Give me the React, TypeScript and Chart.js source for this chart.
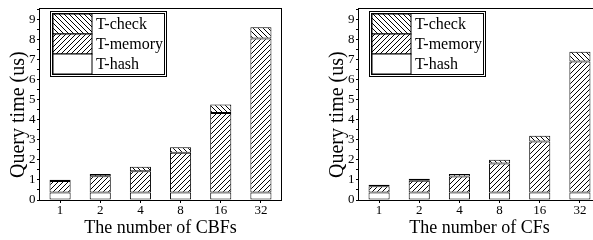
import React, { useEffect, useRef } from 'react';
import { Chart, registerables } from 'chart.js';

Chart.register(...registerables);

// ---- data ----
const categories = ['1', '2', '4', '8', '16', '32'];
const seriesNames = ['T-hash', 'T-memory', 'T-check'];

const cbfHash = [0.37, 0.37, 0.37, 0.37, 0.37, 0.37];
const cbfMemory = [0.58, 0.81, 1.06, 1.98, 3.97, 7.67];
const cbfCheck = [0.06, 0.12, 0.23, 0.28, 0.42, 0.57];

const cfHash = [0.37, 0.37, 0.37, 0.37, 0.37, 0.37];
const cfMemory = [0.31, 0.59, 0.8, 1.45, 2.54, 6.53];
const cfCheck = [0.08, 0.1, 0.13, 0.19, 0.29, 0.49];

const yTitle = 'Query time (us)';
const FONT = '"Liberation Serif", "Times New Roman", serif';

function makePattern(ctx: CanvasRenderingContext2D, dir: 'fwd' | 'back', size = 5) {
  const c = document.createElement('canvas');
  c.width = size;
  c.height = size;
  const p = c.getContext('2d')!;
  p.fillStyle = '#fff';
  p.fillRect(0, 0, size, size);
  p.strokeStyle = '#000';
  p.lineWidth = 1;
  p.beginPath();
  if (dir === 'fwd') {
    p.moveTo(-1, size + 1); p.lineTo(size + 1, -1);
    p.moveTo(-1, 1); p.lineTo(1, -1);
    p.moveTo(size - 1, size + 1); p.lineTo(size + 1, size - 1);
  } else {
    p.moveTo(-1, -1); p.lineTo(size + 1, size + 1);
    p.moveTo(size - 1, -1); p.lineTo(size + 1, 1);
    p.moveTo(-1, size - 1); p.lineTo(1, size + 1);
  }
  p.stroke();
  return ctx.createPattern(c, 'repeat')!;
}

const framePlugin = {
  id: 'frame',
  afterDatasetsDraw(chart: any) {
    const { ctx, chartArea: ca } = chart;
    ctx.save();
    ctx.strokeStyle = '#000';
    ctx.lineWidth = 1;
    const l = Math.round(ca.left) - 0.5;
    const t = Math.round(ca.top) - 0.5;
    const r = Math.round(ca.right) + 0.5;
    const b = Math.round(ca.bottom) + 0.5;
    ctx.strokeRect(l, t, r - l, b - t);
    ctx.restore();
  },
};

const yTitlePlugin = {
  id: 'yTitle',
  afterDraw(chart: any) {
    const { ctx, chartArea: ca } = chart;
    ctx.save();
    ctx.translate(Math.round(ca.left) - 21.5, (ca.top + ca.bottom) / 2 + 10);
    ctx.rotate(-Math.PI / 2);
    ctx.fillStyle = '#000';
    ctx.font = `20px ${FONT}`;
    ctx.textAlign = 'center';
    ctx.textBaseline = 'middle';
    ctx.fillText(yTitle, 0, 0);
    ctx.restore();
  },
};

const legendPlugin = {
  id: 'hatchLegend',
  afterDraw(chart: any) {
    const { ctx, chartArea: ca } = chart;
    const ds = chart.data.datasets;
    const x0 = Math.round(ca.left) + 10.5;
    const y0 = 11.5;
    const w = 116;
    const h = 65;
    ctx.save();
    ctx.strokeStyle = '#000';
    ctx.lineWidth = 1;
    ctx.strokeRect(x0, y0, w, h);
    ctx.strokeRect(x0 + 2, y0 + 2, w - 4, h - 4);
    const order = [2, 1, 0];
    order.forEach((di, i) => {
      const sy = y0 + 2.5 + i * 20;
      const sx = x0 + 2.5;
      ctx.fillStyle = ds[di].backgroundColor;
      ctx.fillRect(sx, sy, 39, 20);
      ctx.strokeRect(sx, sy, 39, 20);
      ctx.fillStyle = '#000';
      ctx.font = `16px ${FONT}`;
      ctx.textAlign = 'left';
      ctx.textBaseline = 'middle';
      ctx.fillText(ds[di].label, sx + 43, sy + 10.5);
    });
    ctx.restore();
  },
};

function StackPanel({ hash, memory, check, xTitle }: { hash: number[]; memory: number[]; check: number[]; xTitle: string }) {
  const ref = useRef<HTMLCanvasElement>(null);
  useEffect(() => {
    const canvas = ref.current!;
    const ctx = canvas.getContext('2d')!;
    const fwd = makePattern(ctx, 'fwd', 5);
    const back = makePattern(ctx, 'back', 5);
    const common = { borderColor: '#000', borderWidth: 1, borderSkipped: false as const };
    const chart = new Chart(canvas, {
      type: 'bar',
      data: {
        labels: categories,
        datasets: [
          { label: seriesNames[0], data: hash, backgroundColor: '#fff', ...common },
          { label: seriesNames[1], data: memory, backgroundColor: fwd as any, ...common },
          { label: seriesNames[2], data: check, backgroundColor: back as any, ...common },
        ],
      },
      options: {
        responsive: false,
        animation: false,
        devicePixelRatio: 1,
        layout: { padding: { top: 5, right: 19, left: 0, bottom: 0 } },
        datasets: { bar: { categoryPercentage: 1, barPercentage: 0.525 } },
        plugins: { legend: { display: false }, tooltip: { enabled: false } },
        scales: {
          x: {
            stacked: true,
            offset: true,
            grid: { display: true, drawOnChartArea: false, offset: false, tickLength: 3, color: '#000' },
            border: { display: false },
            ticks: { color: '#000', font: { family: FONT, size: 13 }, padding: 0, maxRotation: 0 },
            title: { display: true, text: xTitle, color: '#000', font: { family: FONT, size: 18 }, padding: { top: 0, bottom: 1 } },
            afterFit: (s: any) => { s.height = 40; },
          },
          y: {
            stacked: true,
            min: 0,
            max: 9.5,
            grid: { display: true, drawOnChartArea: false, tickLength: 3, color: '#000' },
            border: { display: false },
            ticks: {
              stepSize: 0.5,
              autoSkip: false,
              color: '#000',
              font: { family: FONT, size: 13 },
              padding: 1.5,
              callback: (v: any) => (Number.isInteger(v) ? String(v) : ''),
            },
            title: { display: false },
            afterFit: (s: any) => { s.width = 40; },
          },
        },
      },
      plugins: [framePlugin, legendPlugin, yTitlePlugin],
    });
    return () => chart.destroy();
  }, [hash, memory, check, xTitle]);
  return <canvas ref={ref} width={300} height={240} />;
}

export default function App() {
  return (
    <div style={{ position: 'absolute', left: 0, top: 0, width: 593, height: 240, overflow: 'hidden', background: '#fff' }}>
      <div style={{ position: 'absolute', left: 0, top: 0 }}>
        <StackPanel hash={cbfHash} memory={cbfMemory} check={cbfCheck} xTitle="The number of CBFs" />
      </div>
      <div style={{ position: 'absolute', left: 319, top: 0 }}>
        <StackPanel hash={cfHash} memory={cfMemory} check={cfCheck} xTitle="The number of CFs" />
      </div>
    </div>
  );
}
